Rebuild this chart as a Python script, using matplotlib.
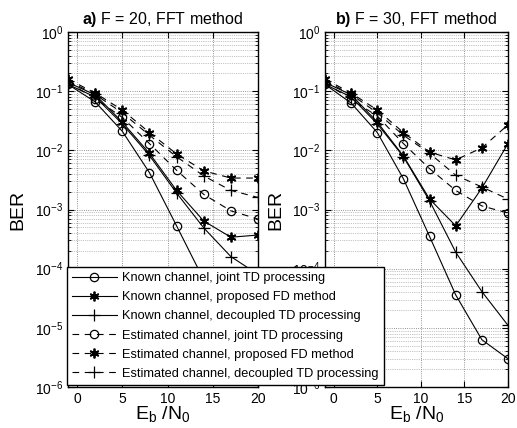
import numpy as np
import matplotlib
matplotlib.use("Agg")
import matplotlib.pyplot as plt
from matplotlib.ticker import LogLocator, NullFormatter, FixedLocator

plt.rcParams['font.family'] = ['Liberation Sans', 'DejaVu Sans']
plt.rcParams['mathtext.fontset'] = 'custom'
plt.rcParams['mathtext.rm'] = 'Liberation Sans'
plt.rcParams['mathtext.it'] = 'Liberation Sans:italic'
plt.rcParams['mathtext.bf'] = 'Liberation Sans:bold'

# ---- data ----
ebn0 = [-1, 2, 5, 8, 11, 14, 17, 20]
series_labels = [
    "Known channel, joint TD processing",
    "Known channel, proposed FD method",
    "Known channel, decoupled TD processing",
    "Estimated channel, joint TD processing",
    "Estimated channel, proposed FD method",
    "Estimated channel, decoupled TD processing",
]
panel_titles = [r"$\mathbf{a)}$ F = 20, FFT method", r"$\mathbf{b)}$ F = 30, FFT method"]

known_joint_a = [0.13, 0.066, 0.021, 0.0042, 5.3e-4, 6.5e-5, 8e-6, 1.5e-6]
known_fd_a = [0.14, 0.087, 0.030, 0.0089, 0.0021, 6.4e-4, 3.4e-4, 3.7e-4]
known_dec_a = [0.13, 0.080, 0.028, 0.0082, 0.0019, 4.9e-4, 1.6e-4, 8e-5]
est_joint_a = [0.14, 0.075, 0.036, 0.013, 0.0046, 0.0018, 9.5e-4, 6.9e-4]
est_fd_a = [0.16, 0.093, 0.048, 0.020, 0.0087, 0.0045, 0.0034, 0.0034]
est_dec_a = [0.15, 0.088, 0.043, 0.018, 0.0078, 0.0037, 0.0021, 0.0016]

known_joint_b = [0.13, 0.063, 0.020, 0.0033, 3.5e-4, 3.6e-5, 6.3e-6, 3.0e-6]
known_fd_b = [0.14, 0.087, 0.030, 0.0080, 0.0015, 5.3e-4, 2.3e-3, 0.013]
known_dec_b = [0.13, 0.080, 0.028, 0.0078, 0.0014, 1.9e-4, 4.1e-5, 1.1e-5]
est_joint_b = [0.14, 0.072, 0.038, 0.013, 0.0049, 0.0021, 1.15e-3, 8.7e-4]
est_fd_b = [0.16, 0.093, 0.048, 0.020, 0.0093, 0.0069, 0.011, 0.027]
est_dec_b = [0.15, 0.088, 0.043, 0.018, 0.0089, 0.0038, 0.0024, 0.0015]

panels = [
    [known_joint_a, known_fd_a, known_dec_a, est_joint_a, est_fd_a, est_dec_a],
    [known_joint_b, known_fd_b, known_dec_b, est_joint_b, est_fd_b, est_dec_b],
]
x_ticks = [0, 5, 10, 15, 20]

asterisk = (6, 2, 0)
dash = (0, (6, 5))
styles = [
    dict(ls='-', marker='o', ms=6, mew=0.9),
    dict(ls='-', marker=asterisk, ms=7, mew=1.3),
    dict(ls='-', marker='+', ms=8, mew=0.9),
    dict(ls=dash, marker='o', ms=6, mew=0.9),
    dict(ls=dash, marker=asterisk, ms=7, mew=1.3),
    dict(ls=dash, marker='+', ms=8, mew=0.9),
]

fig = plt.figure(figsize=(5.17, 4.28), dpi=100)
rects = [
    [68/517, 1-387/428, 190/517, 355/428],
    [325/517, 1-387/428, 183/517, 355/428],
]

handles = []
for i, (rect, data) in enumerate(zip(rects, panels)):
    ax = fig.add_axes(rect)
    for j, (ys, st) in enumerate(zip(data, styles)):
        h, = ax.plot(ebn0, ys, color='black', lw=0.8, ls=st['ls'],
                     marker=st['marker'], ms=st['ms'], mfc='none',
                     mec='black', mew=st['mew'], label=series_labels[j])
        if i == 0:
            handles.append(h)
    ax.set_yscale('log')
    ax.set_ylim(1e-6, 1)
    ax.set_xlim(-1, 20)
    ax.xaxis.set_major_locator(FixedLocator(x_ticks))
    ax.yaxis.set_major_locator(LogLocator(base=10, numticks=10))
    ax.yaxis.set_minor_locator(LogLocator(base=10, subs=np.arange(2, 10), numticks=20))
    ax.yaxis.set_minor_formatter(NullFormatter())
    ax.grid(True, which='major', axis='both', ls=':', lw=0.6, color='0.45')
    ax.grid(True, which='minor', axis='y', ls=':', lw=0.5, color='0.55')
    ax.tick_params(which='both', direction='in', top=True, right=True, labelsize=10)
    ax.tick_params(which='major', length=4)
    ax.tick_params(which='minor', length=2)
    for sp in ax.spines.values():
        sp.set_linewidth(1.0)
    ax.set_title(panel_titles[i], fontsize=11.5, pad=6)
    ax.set_ylabel("BER", fontsize=14)
    ax.yaxis.set_label_coords(-0.22, 0.5)
    ax.set_xlabel(r"E$_\mathregular{b}$ /N$_\mathregular{0}$", fontsize=14, labelpad=-1)

leg = fig.legend(handles=handles, loc='lower left',
                 bbox_to_anchor=(67/517, 43/428), borderaxespad=0,
                 fontsize=9.2, handlelength=3.5, handletextpad=0.4,
                 labelspacing=0.56, borderpad=0.4, fancybox=False,
                 framealpha=1, edgecolor='black')
leg.get_frame().set_linewidth(1.0)
leg.set_zorder(10)

fig.savefig("out.png", dpi=100)
